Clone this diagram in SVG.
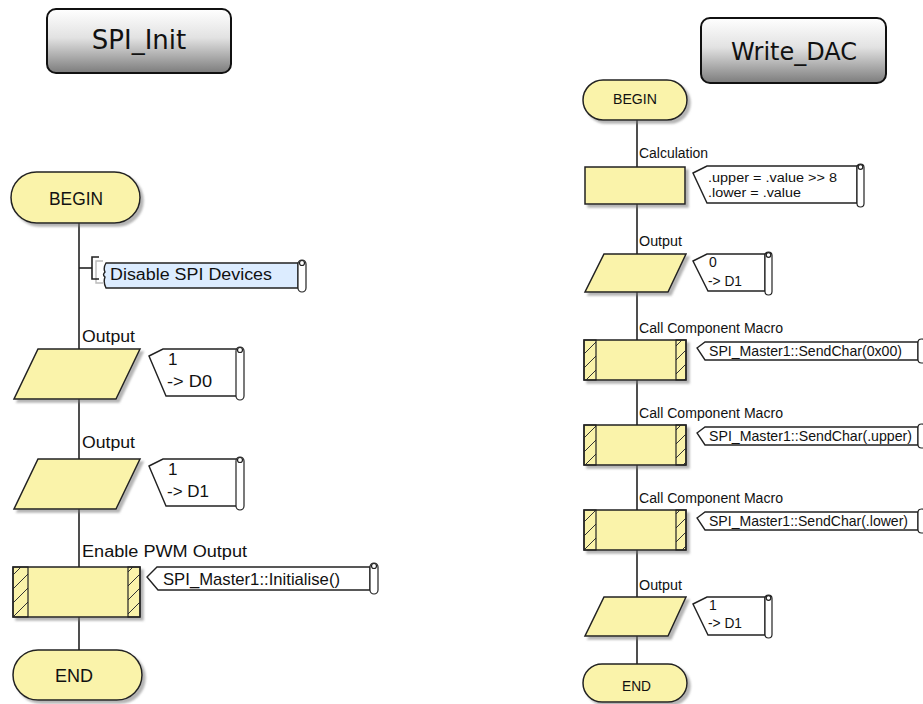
<svg xmlns="http://www.w3.org/2000/svg" width="923" height="704" viewBox="0 0 923 704">
  <defs>
    <linearGradient id="hdrGrad" x1="0" y1="0" x2="0" y2="1">
      <stop offset="0" stop-color="#ffffff"/>
      <stop offset="0.45" stop-color="#e2e2e2"/>
      <stop offset="1" stop-color="#7c7c7c"/>
    </linearGradient>
    <filter id="shadow" x="-10%" y="-10%" width="130%" height="140%">
      <feDropShadow dx="3" dy="3" stdDeviation="1.2" flood-color="#777" flood-opacity="0.55"/>
    </filter>
    <pattern id="hatch" patternUnits="userSpaceOnUse" width="14" height="14">
      <path d="M0,14 L14,0 M-7,7 L7,-7 M7,21 L21,7" stroke="#333" stroke-width="1"/>
    </pattern>
  </defs>
  <style>
    .hdr { fill: url(#hdrGrad); stroke: #111; stroke-width: 2; }
    .hdrtxt { font-family: "DejaVu Sans", Verdana, sans-serif; fill: #111; text-anchor: middle; }
    .blk { fill: #faf3aa; stroke: #222; stroke-width: 1.5; filter: url(#shadow); }
    .strip { fill: url(#hatch); stroke: #222; stroke-width: 1.2; }
    .cmt { fill: #fff; stroke: #222; stroke-width: 1.4; }
    .note { fill: #dcecff; stroke: #222; stroke-width: 1.4; }
    .scroll { fill: #fff; stroke: #222; stroke-width: 1.2; }
    .wire { fill: none; stroke: #222; stroke-width: 1.6; }
    .ghost { fill: none; stroke: #bbb; stroke-width: 1.4; }
    .t { font-family: "Liberation Sans", Arial, sans-serif; fill: #111; }
    .l16 { font-size: 16px; }
    .l17 { font-size: 17px; }
    .l18 { font-size: 18px; }
    .r12 { font-size: 12.5px; }
    .r14 { font-size: 14px; }
    .r15 { font-size: 15px; }
  </style>

  <!-- ===== macro title badges ===== -->
  <g id="title-spi-init">
    <rect class="hdr" x="47" y="9" width="184" height="64" rx="9"/>
    <text class="hdrtxt" x="139" y="49" font-size="26">SPI_Init</text>
  </g>
  <g id="title-write-dac">
    <rect class="hdr" x="701" y="18" width="185" height="65" rx="9"/>
    <text class="hdrtxt" x="794" y="60" font-size="24">Write_DAC</text>
  </g>

  <!-- ===== connectors ===== -->
  <g id="connectors">
    <line class="wire" x1="79" y1="222" x2="79" y2="652"/>
    <line class="wire" x1="637" y1="118" x2="637" y2="666"/>
    <!-- comment bracket hooked to the SPI_Init flow line -->
    <polyline class="ghost" points="103,261 96,261 96,283 103,283"/>
    <line class="wire" x1="79" y1="268" x2="92" y2="268"/>
    <polyline class="wire" points="99,257 92,257 92,279 99,279"/>
  </g>

  <!-- ===== SPI_Init flow ===== -->
  <g id="spi-begin">
    <rect class="blk" x="11" y="172" width="129" height="51" rx="25.5"/>
    <text class="t l18" x="49" y="205" textLength="54" lengthAdjust="spacingAndGlyphs">BEGIN</text>
  </g>

  <g id="spi-note-disable">
    <path class="note" d="M106,263 H298 V288 H106 Q103,282 105,277 Q102,275 105,272 Q103,268 106,263 Z"/>
    <rect class="scroll" x="298" y="260" width="8" height="32" rx="4"/>
    <circle class="scroll" cx="302" cy="263" r="2.5"/>
    <text class="t l16" x="110" y="280" textLength="162" lengthAdjust="spacingAndGlyphs">Disable SPI Devices</text>
  </g>

  <g id="spi-output-d0">
    <text class="t l17" x="82" y="342" textLength="53" lengthAdjust="spacingAndGlyphs">Output</text>
    <polygon class="blk" points="38,349 140,349 116,399 14,399"/>
    <polygon class="cmt" points="149,356 163,349 238,349 238,396 166,396"/>
    <rect class="scroll" x="236" y="347" width="8" height="53" rx="4"/>
    <circle class="scroll" cx="240" cy="350" r="2.5"/>
    <text class="t l17" x="168" y="365">1</text>
    <text class="t l17" x="167" y="387" textLength="45" lengthAdjust="spacingAndGlyphs">-&gt; D0</text>
  </g>

  <g id="spi-output-d1">
    <text class="t l17" x="82" y="448" textLength="53" lengthAdjust="spacingAndGlyphs">Output</text>
    <polygon class="blk" points="38,459 140,459 116,509 14,509"/>
    <polygon class="cmt" points="149,466 163,459 238,459 238,506 166,506"/>
    <rect class="scroll" x="236" y="457" width="8" height="53" rx="4"/>
    <circle class="scroll" cx="240" cy="460" r="2.5"/>
    <text class="t l17" x="168" y="475">1</text>
    <text class="t l17" x="167" y="497" textLength="42" lengthAdjust="spacingAndGlyphs">-&gt; D1</text>
  </g>

  <g id="spi-macro-init">
    <text class="t l16" x="82" y="557" textLength="165" lengthAdjust="spacingAndGlyphs">Enable PWM Output</text>
    <rect class="blk" x="13" y="567" width="127" height="50"/>
    <rect class="strip" x="13" y="567" width="15" height="50"/>
    <rect class="strip" x="128" y="567" width="12" height="50"/>
    <polygon class="cmt" points="147,577 157,567 370,567 370,590 158,590"/>
    <rect class="scroll" x="370" y="563" width="8" height="31" rx="4"/>
    <circle class="scroll" cx="374" cy="566" r="2.5"/>
    <text class="t l17" x="163" y="585" textLength="177" lengthAdjust="spacingAndGlyphs">SPI_Master1::Initialise()</text>
  </g>

  <g id="spi-end">
    <rect class="blk" x="13" y="650" width="129" height="50" rx="25"/>
    <text class="t l18" x="55" y="682" textLength="38" lengthAdjust="spacingAndGlyphs">END</text>
  </g>

  <!-- ===== Write_DAC flow ===== -->
  <g id="dac-begin">
    <rect class="blk" x="583" y="80" width="104" height="40" rx="20"/>
    <text class="t r15" x="613" y="104" textLength="44" lengthAdjust="spacingAndGlyphs">BEGIN</text>
  </g>

  <g id="dac-calc">
    <text class="t r14" x="639" y="158" textLength="69" lengthAdjust="spacingAndGlyphs">Calculation</text>
    <rect class="blk" x="585" y="167" width="100" height="37"/>
    <polygon class="cmt" points="693,173 707,166 857,166 857,203 707,203"/>
    <rect class="scroll" x="857" y="164" width="7" height="43" rx="3.5"/>
    <circle class="scroll" cx="860.5" cy="167" r="2.3"/>
    <text class="t r12" x="708" y="182" textLength="129" lengthAdjust="spacingAndGlyphs">.upper = .value &gt;&gt; 8</text>
    <text class="t r12" x="708" y="197" textLength="93" lengthAdjust="spacingAndGlyphs">.lower = .value</text>
  </g>

  <g id="dac-output-0">
    <text class="t r14" x="639" y="246" textLength="43" lengthAdjust="spacingAndGlyphs">Output</text>
    <polygon class="blk" points="604,254 686,254 668,292 585,292"/>
    <polygon class="cmt" points="693,261 707,254 765,254 765,291 708,291"/>
    <rect class="scroll" x="765" y="252" width="7" height="43" rx="3.5"/>
    <circle class="scroll" cx="768.5" cy="255" r="2.3"/>
    <text class="t r14" x="709" y="267">0</text>
    <text class="t r14" x="708" y="286" textLength="34" lengthAdjust="spacingAndGlyphs">-&gt; D1</text>
  </g>

  <g id="dac-send-zero">
    <text class="t r14" x="639" y="333" textLength="144" lengthAdjust="spacingAndGlyphs">Call Component Macro</text>
    <rect class="blk" x="584" y="340" width="102" height="40"/>
    <rect class="strip" x="584" y="340" width="12" height="40"/>
    <rect class="strip" x="676" y="340" width="10" height="40"/>
    <polygon class="cmt" points="697,348 705,342 918,342 918,360 705,360"/>
    <rect class="scroll" x="918" y="339" width="7" height="24" rx="3.5"/>
    <text class="t r15" x="709" y="356" textLength="193" lengthAdjust="spacingAndGlyphs">SPI_Master1::SendChar(0x00)</text>
  </g>

  <g id="dac-send-upper">
    <text class="t r14" x="639" y="418" textLength="144" lengthAdjust="spacingAndGlyphs">Call Component Macro</text>
    <rect class="blk" x="584" y="425" width="102" height="40"/>
    <rect class="strip" x="584" y="425" width="12" height="40"/>
    <rect class="strip" x="676" y="425" width="10" height="40"/>
    <polygon class="cmt" points="697,433 705,427 918,427 918,445 705,445"/>
    <rect class="scroll" x="918" y="424" width="7" height="24" rx="3.5"/>
    <text class="t r15" x="709" y="441" textLength="203" lengthAdjust="spacingAndGlyphs">SPI_Master1::SendChar(.upper)</text>
  </g>

  <g id="dac-send-lower">
    <text class="t r14" x="639" y="503" textLength="144" lengthAdjust="spacingAndGlyphs">Call Component Macro</text>
    <rect class="blk" x="584" y="510" width="102" height="40"/>
    <rect class="strip" x="584" y="510" width="12" height="40"/>
    <rect class="strip" x="676" y="510" width="10" height="40"/>
    <polygon class="cmt" points="697,518 705,512 918,512 918,530 705,530"/>
    <rect class="scroll" x="918" y="509" width="7" height="24" rx="3.5"/>
    <text class="t r15" x="709" y="526" textLength="199" lengthAdjust="spacingAndGlyphs">SPI_Master1::SendChar(.lower)</text>
  </g>

  <g id="dac-output-1">
    <text class="t r14" x="639" y="590" textLength="43" lengthAdjust="spacingAndGlyphs">Output</text>
    <polygon class="blk" points="604,597 686,597 668,636 585,636"/>
    <polygon class="cmt" points="693,604 707,597 765,597 765,635 708,635"/>
    <rect class="scroll" x="765" y="595" width="7" height="43" rx="3.5"/>
    <circle class="scroll" cx="768.5" cy="598" r="2.3"/>
    <text class="t r14" x="709" y="610">1</text>
    <text class="t r14" x="708" y="628" textLength="34" lengthAdjust="spacingAndGlyphs">-&gt; D1</text>
  </g>

  <g id="dac-end">
    <rect class="blk" x="583" y="664" width="104" height="38" rx="19"/>
    <text class="t r15" x="622" y="691" textLength="29" lengthAdjust="spacingAndGlyphs">END</text>
  </g>
</svg>
